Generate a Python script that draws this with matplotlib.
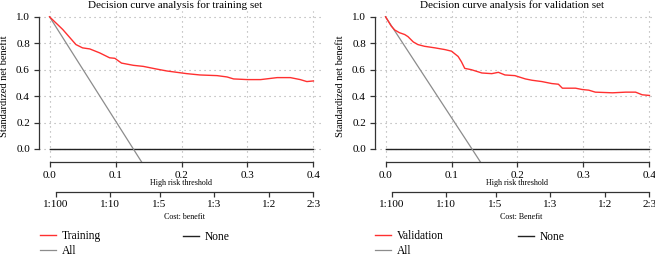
import numpy as np
import matplotlib
matplotlib.use("Agg")
import matplotlib.pyplot as plt
import matplotlib.transforms as mtransforms

plt.rcParams['font.family'] = ['Liberation Serif', 'DejaVu Serif']

# thresholds / net benefit
thr_train = [0.0, 0.02, 0.04, 0.05, 0.061, 0.076, 0.091, 0.099, 0.109, 0.127, 0.142,
             0.162, 0.178, 0.193, 0.208, 0.228, 0.254, 0.269, 0.279, 0.30, 0.32,
             0.345, 0.365, 0.38, 0.39, 0.40]
snb_train = [1.0, 0.904, 0.79, 0.765, 0.757, 0.727, 0.69, 0.686, 0.65, 0.633, 0.625,
             0.605, 0.59, 0.58, 0.57, 0.56, 0.555, 0.545, 0.53, 0.525, 0.525,
             0.54, 0.54, 0.525, 0.51, 0.515]

thr_valid = [0.0, 0.0086, 0.014, 0.021, 0.029, 0.034, 0.042, 0.049, 0.059, 0.075, 0.09,
             0.10, 0.11, 0.115, 0.12, 0.13, 0.146, 0.161, 0.171, 0.181, 0.196, 0.212,
             0.222, 0.237, 0.252, 0.262, 0.268, 0.288, 0.298, 0.308, 0.318, 0.344,
             0.364, 0.379, 0.389, 0.40]
snb_valid = [1.0, 0.93, 0.90, 0.88, 0.866, 0.85, 0.81, 0.79, 0.777, 0.765, 0.752,
             0.74, 0.70, 0.66, 0.61, 0.60, 0.575, 0.57, 0.58, 0.56, 0.555, 0.53,
             0.52, 0.51, 0.495, 0.49, 0.46, 0.46, 0.45, 0.445, 0.43, 0.425,
             0.43, 0.43, 0.41, 0.405]

# "All" strategy (straight gray line, clipped at the bottom)
thr_all_train = [0.0, 0.127, 0.140]
snb_all_train = [1.0, 0.0, -0.102]
thr_all_valid = [0.0, 0.131, 0.144]
snb_all_valid = [1.0, 0.0, -0.1]

thr_none = [0.0, 0.4]
snb_none = [0.0, 0.0]

cb_pos = [1/101, 1/11, 1/6, 1/4, 1/3, 0.4]
cb_labels = ['1:100', '1:10', '1:5', '1:3', '1:2', '2:3']

panels = [
    dict(title='Decision curve analysis for training set', thr=thr_train, snb=snb_train,
         thr_all=thr_all_train, snb_all=snb_all_train, name='Training',
         cb='Cost: benefit', left=39, title_x=175, leg1=40, leg2=183),
    dict(title='Decision curve analysis for validation set', thr=thr_valid, snb=snb_valid,
         thr_all=thr_all_valid, snb_all=snb_all_valid, name='Validation',
         cb='Cost: Benefit', left=375, title_x=512, leg1=375, leg2=518),
]

W, H = 655, 257
fig = plt.figure(figsize=(W/100, H/100), dpi=100)
axc = '#333333'

for p in panels:
    ax = fig.add_axes([p['left']/W, (H-162)/H, 285/W, 151/H])
    ax.set_xlim(-0.016, 0.416)
    ax.set_ylim(-0.0985, 1.044)
    ax.set_xticks([0, 0.1, 0.2, 0.3, 0.4])
    ax.set_yticks([0, 0.2, 0.4, 0.6, 0.8, 1.0])
    ax.set_xticklabels(['0.0', '0.1', '0.2', '0.3', '0.4'])
    ax.set_yticklabels(['0.0', '0.2', '0.4', '0.6', '0.8', '1.0'])
    ax.grid(True, linestyle=(0, (1, 3.5)), color='#a8a8a8', linewidth=0.8)
    for s in ['top', 'right']:
        ax.spines[s].set_visible(False)
    ax.spines['left'].set_bounds(0, 1)
    ax.spines['bottom'].set_bounds(0, 0.4)
    for s in ['left', 'bottom']:
        ax.spines[s].set_color(axc)
        ax.spines[s].set_linewidth(0.9)
    ax.tick_params(direction='out', length=3.5, width=0.9, color=axc,
                   labelsize=8, pad=3)

    l_none, = ax.plot(thr_none, snb_none, color='#222222', lw=1.0)
    l_all, = ax.plot(p['thr_all'], p['snb_all'], color='#8c8c8c', lw=0.9)
    l_mod, = ax.plot(p['thr'], p['snb'], color='#ff3030', lw=1.0)

    ax.set_title(p['title'], fontsize=8, x=(p['title_x']-p['left'])/285, pad=2)
    ax.set_ylabel('Standardized net benefit', fontsize=7.5, labelpad=5)

    trans = mtransforms.blended_transform_factory(ax.transData, ax.transAxes)
    ax.text(0.2, -21/151, 'High risk threshold', transform=trans, fontsize=5.8,
            ha='center', va='center')

    sec = ax.secondary_xaxis(-30/151)
    sec.set_xticks(cb_pos)
    sec.set_xticklabels(cb_labels)
    sec.spines['bottom'].set_bounds(cb_pos[0], cb_pos[-1])
    sec.spines['bottom'].set_color(axc)
    sec.spines['bottom'].set_linewidth(0.9)
    sec.tick_params(direction='out', length=3.5, width=0.9, color=axc,
                    labelsize=8, pad=2)
    ax.text(0.205, -55/151, p['cb'], transform=trans, fontsize=5.8,
            ha='center', va='center')

    fig.legend([l_mod, l_all], [p['name'], 'All'], loc='center left',
               bbox_to_anchor=(p['leg1']/W, 1-243.5/H), frameon=False,
               fontsize=8.3, handlelength=1.4, handletextpad=0.5,
               labelspacing=0.3, borderpad=0, borderaxespad=0)
    fig.legend([l_none], ['None'], loc='center left',
               bbox_to_anchor=(p['leg2']/W, 1-237/H), frameon=False,
               fontsize=8.3, handlelength=1.4, handletextpad=0.5,
               borderpad=0, borderaxespad=0)

fig.savefig('out.png', dpi=100)
